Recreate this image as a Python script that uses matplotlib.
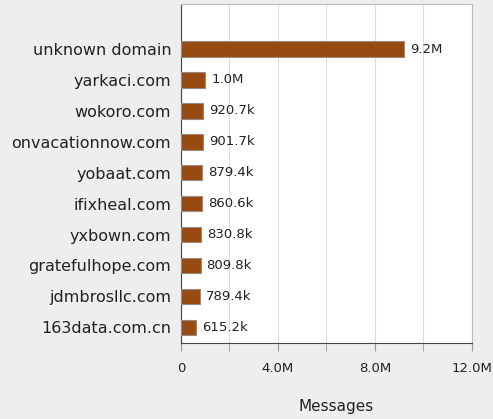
import matplotlib
matplotlib.use('Agg')
from matplotlib import pyplot as plt
from matplotlib.ticker import FuncFormatter, MultipleLocator

domains = ['unknown domain', 'yarkaci.com', 'wokoro.com', 'onvacationnow.com', 'yobaat.com',
           'ifixheal.com', 'yxbown.com', 'gratefulhope.com', 'jdmbrosllc.com', '163data.com.cn']
messages = [9200000, 1000000, 920700, 901700, 879400, 860600, 830800, 809800, 789400, 615200]


def fmt(v):
    # short label like 9.2M or 920.7k
    if v == 0:
        return '0'
    if v >= 1e6:
        return '%.1fM' % (v / 1e6)
    return '%.1fk' % (v / 1e3)


fig = plt.figure(figsize=(4.93, 4.19), dpi=100, facecolor='#eeeeee')
ax = fig.add_axes([0.367, 0.182, 0.59, 0.808])
ax.set_facecolor('white')

ypos = list(range(len(domains)))[::-1]
ax.barh(ypos, messages, height=0.5, color='#984a13', edgecolor='#9a8a80', linewidth=0.8, zorder=3)

for y, v in zip(ypos, messages):
    ax.text(v + 250000, y, fmt(v), va='center', ha='left', fontsize=9.5, color='#222222', zorder=4)

ax.set_xlim(0, 12000000)
ax.set_ylim(-0.5, 10.45)
ax.set_yticks(ypos)
ax.set_yticklabels(domains, fontsize=11.5, color='#222222')
ax.tick_params(axis='y', length=0, pad=7)

ax.xaxis.set_major_locator(MultipleLocator(4000000))
ax.xaxis.set_minor_locator(MultipleLocator(2000000))
ax.xaxis.set_major_formatter(FuncFormatter(lambda v, p: fmt(v)))
ax.tick_params(axis='x', which='both', length=6, color='#999999', labelsize=9.5,
               labelcolor='#222222', pad=8)
ax.grid(axis='x', which='both', color='#dddddd', linewidth=0.8, zorder=0)

for s in ['top', 'right']:
    ax.spines[s].set_color('#bbbbbb')
for s in ['left', 'bottom']:
    ax.spines[s].set_color('#444444')

ax.set_xlabel('Messages', fontsize=11, color='#222222')
ax.xaxis.set_label_coords(0.534, -0.165)

plt.savefig('out.png', dpi=100, facecolor=fig.get_facecolor())
